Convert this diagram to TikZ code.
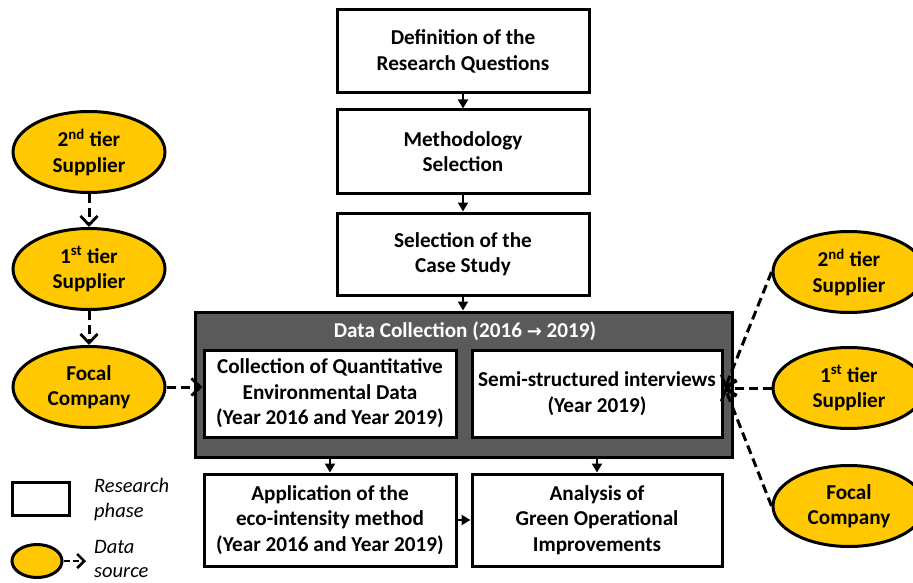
\documentclass[tikz,border=0pt]{standalone}
\usepackage{fontspec}
\setmainfont{Carlito}
\newfontfamily\symfont{DejaVu Sans}
\usetikzlibrary{arrows.meta,shapes.geometric}
\definecolor{srcyellow}{RGB}{255,200,0}
\definecolor{dcgray}{RGB}{90,90,90}
\begin{document}
\begin{tikzpicture}[x=1pt,y=-1pt,
  phase/.style={draw=black, line width=3pt, fill=white, inner sep=0pt,
    align=center, font=\fontsize{21.2}{25.5}\selectfont\bfseries},
  srcnode/.style={draw=black, line width=3pt, fill=srcyellow, ellipse, inner sep=0pt,
    minimum width=152pt, minimum height=81pt, align=center,
    font=\fontsize{21.2}{25.5}\selectfont\bfseries},
  flow/.style={line width=2.2pt, -{Triangle[length=9pt,width=10pt]}},
  dflow/.style={line width=3pt, dash pattern=on 9pt off 5pt,
    -{Straight Barb[length=9pt,width=17pt,line width=2.8pt]}},
  legtext/.style={anchor=west, align=left, inner sep=0pt,
    font=\fontsize{20.5}{24.5}\selectfont\itshape}
]
\clip (0,0) rectangle (913,583);
\fill[white] (0,0) rectangle (913,583);

% main flow boxes
\node[phase, minimum width=252pt, minimum height=83pt] (b1) at (463,51.5) {Definition of the\\Research Questions};
\node[phase, minimum width=252pt, minimum height=83pt] (b2) at (463,151.5) {Methodology\\Selection};
\node[phase, minimum width=252pt, minimum height=82pt] (b3) at (463,254) {Selection of the\\Case Study};

% data collection container
\node[draw=black, line width=3pt, fill=dcgray, minimum width=537pt, minimum height=145pt, inner sep=0pt] (dc) at (463.5,384.5) {};
\node[text=white, font=\fontsize{21.2}{25}\selectfont\bfseries, inner sep=0pt] (dct) at (465,331) {Data Collection (2016 {\symfont\bfseries\fontsize{18}{20}\selectfont →} 2019)};
\node[phase, minimum width=252pt, minimum height=87pt] (cq) at (330,393.5) {Collection of Quantitative\\Environmental Data\\(Year 2016 and Year 2019)};
\node[phase, minimum width=250pt, minimum height=87pt] (sr) at (597,393.5) {Semi-structured interviews\\(Year 2019)};

% bottom boxes
\node[phase, minimum width=252pt, minimum height=92pt] (ap) at (330,520) {Application of the\\eco-intensity method\\(Year 2016 and Year 2019)};
\node[phase, minimum width=250pt, minimum height=92pt] (an) at (597,520) {Analysis of\\Green Operational\\Improvements};

% left sources
\node[srcnode] (l2) at (89,152) {2\textsuperscript{nd} tier\\Supplier};
\node[srcnode] (l1) at (89,269) {1\textsuperscript{st} tier\\Supplier};
\node[srcnode] (lf) at (89,387) {Focal\\Company};

% right sources
\node[srcnode] (r2) at (849,272) {2\textsuperscript{nd} tier\\Supplier};
\node[srcnode] (r1) at (849,388) {1\textsuperscript{st} tier\\Supplier};
\node[srcnode] (rf) at (849,506) {Focal\\Company};
\coordinate (conv) at (725,388);

% solid flow arrows
\draw[flow] (b1) -- (b2);
\draw[flow] (b2) -- (b3);
\draw[flow] (b3) -- (dc.north -| b3.south);
\draw[flow] (dc.south -| cq.south) -- (ap);
\draw[flow] (dc.south -| sr.south) -- (an);
\draw[flow] (ap) -- (an);

% dashed source arrows
\draw[dflow] (l2) -- (l1);
\draw[dflow] (l1) -- (lf);
\draw[dflow] (lf.east) -- (cq.west |- lf.east);
\draw[dflow] (r2.west) -- (conv);
\draw[dflow] (r1.west) -- (conv);
\draw[dflow] (rf.west) -- (conv);

% legend
\node[draw=black, line width=3pt, fill=white, minimum width=57pt, minimum height=33pt, inner sep=0pt] (lgr) at (40.5,498.5) {};
\node[legtext] (lgrt) at (94,499.5) {Research\\phase};
\node[draw=black, line width=3pt, fill=srcyellow, ellipse, minimum width=50pt, minimum height=33pt, inner sep=0pt] (lge) at (37,561) {};
\coordinate (lgtip) at (86,561);
\draw[line width=2.8pt, dash pattern=on 6pt off 3pt, -{Straight Barb[length=7pt,width=14pt,line width=2.6pt]}] (lge.east) -- (lgtip);
\node[legtext] (lget) at (94,559) {Data\\source};
\end{tikzpicture}
\end{document}
